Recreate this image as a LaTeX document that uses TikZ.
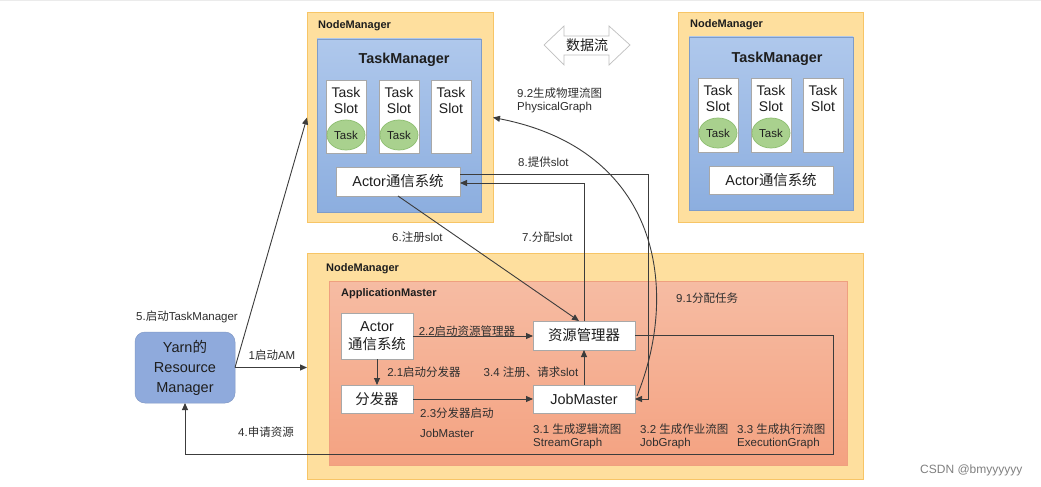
\documentclass[tikz,border=0pt]{standalone}
\usepackage{fontspec}
\setmainfont{Liberation Sans}
\newfontfamily\cjk{Noto Sans CJK SC}
\usetikzlibrary{arrows.meta,calc,shapes.geometric}
\newcommand{\fsz}[2]{\fontsize{#1}{#2}\selectfont}
\newcommand{\zh}[1]{{\cjk #1}}
\definecolor{nmfill}{HTML}{FEDF9E}
\definecolor{nmborder}{HTML}{F7C566}
\definecolor{tmtop}{HTML}{AFC8EC}
\definecolor{tmbot}{HTML}{8CAEDF}
\definecolor{tmborder}{HTML}{7E9CC9}
\definecolor{amtop}{HTML}{F6BCA3}
\definecolor{ambot}{HTML}{F4A281}
\definecolor{amborder}{HTML}{EFA07F}
\definecolor{boxborder}{HTML}{A8A8A8}
\definecolor{taskfill}{HTML}{A9D18E}
\definecolor{taskborder}{HTML}{8DBE70}
\definecolor{yarnfill}{HTML}{8FAADC}
\definecolor{linecol}{HTML}{3C3C3C}
\definecolor{txt}{HTML}{1E1E1E}
\definecolor{lbltxt}{HTML}{2E2E2E}
\tikzset{
  nmbox/.style={rectangle, draw=nmborder, fill=nmfill, line width=1pt, inner sep=0pt, outer sep=0pt},
  tmbox/.style={rectangle, draw=tmborder, top color=tmtop, bottom color=tmbot, line width=0.8pt, inner sep=0pt, outer sep=0pt},
  ambox/.style={rectangle, draw=amborder, top color=amtop, bottom color=ambot, line width=0.8pt, inner sep=0pt, outer sep=0pt},
  wbox/.style={rectangle, draw=boxborder, fill=white, line width=0.7pt, inner sep=0pt, outer sep=0pt, text=txt, align=center},
  taskell/.style={ellipse, draw=taskborder, fill=taskfill, line width=0.7pt, minimum width=38pt, minimum height=30pt, inner sep=0pt, font=\fsz{11.5}{13}, text=txt},
  yarnbox/.style={rectangle, rounded corners=10pt, fill=yarnfill, draw=yarnfill!90!black, line width=0.5pt, inner sep=0pt, outer sep=0pt, align=center, font=\fsz{14.5}{20}, text=txt},
  arr/.style={draw=linecol, line width=0.9pt, -{Triangle[length=7pt,width=6pt]}},
  plainline/.style={draw=linecol, line width=0.9pt},
  lbl/.style={font=\fsz{11.5}{13}, inner sep=0pt, text=lbltxt, align=left},
  title/.style={font=\bfseries\fsz{11}{13}, inner sep=0pt, text=txt},
  bigtitle/.style={font=\bfseries\fsz{14.4}{16}, inner sep=0pt, text=txt},
  slottext/.style={font=\fsz{14}{16}, inner sep=0pt, text=txt, align=center},
}
\begin{document}
\begin{tikzpicture}[x=1pt,y=-1pt]
\useasboundingbox (0,0) rectangle (1041,487);
\fill[white] (0,0) rectangle (1041,487);
\draw[draw=black!8, line width=1pt] (0,1) -- (1041,1);

% ---------- top-left NodeManager ----------
\node[nmbox, minimum width=186pt, minimum height=209pt] (nm1) at (400,117.5) {};
\node[tmbox, minimum width=164pt, minimum height=173pt] (tm1) at (399,125.5) {};
\node[title, anchor=west] (nm1t) at (318,26) {NodeManager};
\node[bigtitle] (tm1t) at (404,60) {TaskManager};
\node[wbox, minimum width=40pt, minimum height=73pt] (s11) at (346,116.5) {};
\node[wbox, minimum width=40pt, minimum height=73pt] (s12) at (399,116.5) {};
\node[wbox, minimum width=40pt, minimum height=73pt] (s13) at (451,116.5) {};
\node[slottext] (s11t) at (346,100) {Task\\Slot};
\node[slottext] (s12t) at (399,100) {Task\\Slot};
\node[slottext] (s13t) at (451,100) {Task\\Slot};
\node[taskell] (t11) at (346,135) {Task};
\node[taskell] (t12) at (399,135) {Task};
\node[wbox, minimum width=124pt, minimum height=29pt, font=\fsz{14.4}{16}] (actor1) at (398,181.5) {Actor\zh{通信系统}};

% ---------- top-right NodeManager ----------
\node[nmbox, minimum width=185pt, minimum height=209pt] (nm2) at (770.5,117.5) {};
\node[tmbox, minimum width=164pt, minimum height=173pt] (tm2) at (771,123.5) {};
\node[title, anchor=west] (nm2t) at (690,25) {NodeManager};
\node[bigtitle] (tm2t) at (777,59) {TaskManager};
\node[wbox, minimum width=40pt, minimum height=74pt] (s21) at (718,115) {};
\node[wbox, minimum width=40pt, minimum height=74pt] (s22) at (771,115) {};
\node[wbox, minimum width=40pt, minimum height=74pt] (s23) at (823,115) {};
\node[slottext] (s21t) at (718,98) {Task\\Slot};
\node[slottext] (s22t) at (771,98) {Task\\Slot};
\node[slottext] (s23t) at (823,98) {Task\\Slot};
\node[taskell] (t21) at (718,133) {Task};
\node[taskell] (t22) at (771,133) {Task};
\node[wbox, minimum width=124pt, minimum height=28pt, font=\fsz{14.4}{16}] (actor2) at (771,180) {Actor\zh{通信系统}};

% ---------- data flow double arrow ----------
\draw[draw=black!25, fill=white, line width=0.7pt]
  (544,45) -- (564,26) -- (564,36) -- (609,36) -- (609,26) -- (630,45)
  -- (609,65) -- (609,55) -- (564,55) -- (564,65) -- cycle;
\node[font=\fsz{14}{16}, inner sep=0pt, text=txt] (flow) at (587,45) {\zh{数据流}};

% ---------- bottom NodeManager ----------
\node[nmbox, minimum width=556pt, minimum height=226pt] (nm3) at (585,366) {};
\node[ambox, minimum width=518pt, minimum height=184pt] (am) at (588,373) {};
\node[title, anchor=west] (nm3t) at (326,269) {NodeManager};
\node[title, anchor=west] (amt) at (341,294) {ApplicationMaster};
\node[wbox, minimum width=72pt, minimum height=46pt, font=\fsz{14.4}{18}] (actorAM) at (377,336) {Actor\\\zh{通信系统}};
\node[wbox, minimum width=72pt, minimum height=28pt, font=\fsz{14.4}{16}] (disp) at (377,399) {\zh{分发器}};
\node[wbox, minimum width=102pt, minimum height=29pt, font=\fsz{14.4}{16}] (rm) at (584,335.5) {\zh{资源管理器}};
\node[wbox, minimum width=102pt, minimum height=28pt, font=\fsz{14.4}{16}] (jm) at (584,399) {JobMaster};

% ---------- Yarn ResourceManager ----------
\node[yarnbox, minimum width=100pt, minimum height=71pt] (yarn) at (185,367.5) {Yarn\zh{的}\\Resource\\Manager};

% ---------- connectors ----------
\coordinate (c4) at (833,454);
\coordinate (c8) at (648,399);
\draw[arr] (yarn.east) -- (yarn.east -| nm3.west);
\draw[arr] (yarn.east) -- (nm1.west);
\draw[arr] (rm.east) -| (c4) -| (yarn.south);
\draw[arr] (actorAM.east) -- (actorAM.east -| rm.west);
\draw[arr] (actorAM.south) -- (disp.north);
\draw[arr] (disp.east) -- (jm.west);
\draw[arr] (jm.north) -- (rm.south);
\draw[arr] (actor1.south) -- ($(rm.north)+(-5,0)$);
\draw[arr] (rm.north) |- ($(actor1.east)+(0,1.5)$);
\draw[arr] ($(actor1.east)+(0,-7.5)$) -| (c8) -- (jm.east);
\draw[arr] ($(jm.east)+(2,-3)$) .. controls (680,290) and (660,150) .. (nm1.east);

% ---------- labels ----------
\node[lbl] (l1) at (272,355) {1\zh{启动}AM};
\node[lbl] (l5) at (187,317) {5.\zh{启动}TaskManager};
\node[lbl] (l4) at (266,432) {4.\zh{申请资源}};
\node[lbl] (l22) at (467,331) {2.2\zh{启动资源管理器}};
\node[lbl] (l21) at (424,372) {2.1\zh{启动分发器}};
\node[lbl] (l34) at (531,372) {3.4 \zh{注册、请求}slot};
\node[lbl, anchor=west] (l23) at (420,413) {2.3\zh{分发器启动}};
\node[lbl, anchor=west] (l23b) at (420,433) {JobMaster};
\node[lbl, anchor=west] (l31) at (533,436.5) {3.1 \zh{生成逻辑流图}\\StreamGraph};
\node[lbl, anchor=west] (l32) at (640,436.5) {3.2 \zh{生成作业流图}\\JobGraph};
\node[lbl, anchor=west] (l33) at (737,436.5) {3.3 \zh{生成执行流图}\\ExecutionGraph};
\node[lbl, anchor=west] (l91) at (676,298) {9.1\zh{分配任务}};
\node[lbl, anchor=west] (l92) at (517,100.5) {9.2\zh{生成物理流图}\\PhysicalGraph};
\node[lbl, anchor=west] (l8) at (518,162) {8.\zh{提供}slot};
\node[lbl, anchor=west] (l7) at (522,237) {7.\zh{分配}slot};
\node[lbl, anchor=west] (l6) at (392,237) {6.\zh{注册}slot};
\node[font=\fsz{12}{14}, inner sep=0pt, text=black!50, anchor=west] (csdn) at (920,470) {CSDN @bmyyyyyy};
\end{tikzpicture}
\end{document}
